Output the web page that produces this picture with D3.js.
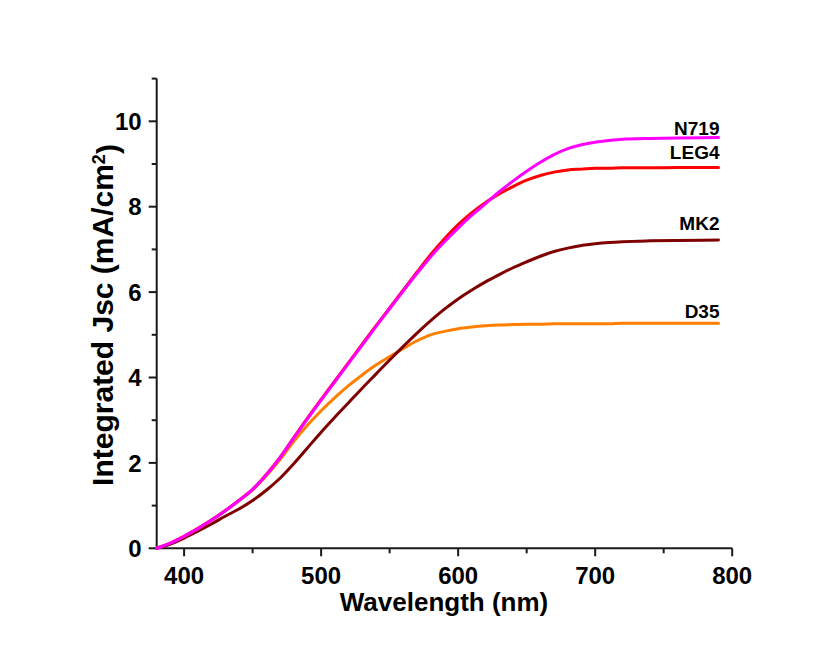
<!DOCTYPE html>
<html>
<head>
<meta charset="utf-8">
<script src="https://cdn.jsdelivr.net/npm/d3@7"></script>
<style>
  html, body { margin: 0; padding: 0; background: #ffffff; }
  svg { display: block; }
  text { font-family: "Liberation Sans", Arial, sans-serif; font-weight: bold; fill: #000; }
</style>
</head>
<body>
<svg id="chart" width="833" height="646"></svg>
<script>
// ---- data ----
const wavelengths = [380,390,400,410,420,430,440,450,460,470,480,490,500,510,520,530,540,550,560,570,580,590,600,610,620,630,640,650,660,670,680,690,700,710,720,740,760,790];
const seriesNames = ["N719", "LEG4", "MK2", "D35"];
const seriesColors = ["#ff00ff", "#ff0000", "#7f0000", "#ff8000"];
const n719 = [0,0.12,0.28,0.46,0.66,0.88,1.12,1.38,1.72,2.12,2.58,3.03,3.47,3.90,4.33,4.76,5.19,5.61,6.03,6.44,6.83,7.18,7.50,7.80,8.07,8.35,8.60,8.83,9.04,9.22,9.36,9.45,9.51,9.55,9.58,9.60,9.61,9.62];
const leg4 = [0,0.12,0.28,0.46,0.66,0.88,1.12,1.38,1.73,2.13,2.59,3.05,3.49,3.92,4.35,4.78,5.21,5.63,6.05,6.47,6.88,7.25,7.58,7.86,8.10,8.30,8.47,8.62,8.73,8.81,8.86,8.88,8.90,8.90,8.91,8.91,8.92,8.92];
const mk2  = [0,0.10,0.24,0.40,0.57,0.75,0.92,1.12,1.36,1.64,1.98,2.35,2.72,3.07,3.41,3.75,4.08,4.41,4.73,5.04,5.33,5.60,5.84,6.05,6.24,6.41,6.57,6.71,6.84,6.95,7.03,7.09,7.13,7.16,7.18,7.20,7.21,7.22];
const d35  = [0,0.12,0.28,0.46,0.66,0.88,1.12,1.37,1.70,2.08,2.50,2.88,3.22,3.53,3.81,4.06,4.29,4.49,4.68,4.86,5.00,5.08,5.14,5.18,5.21,5.23,5.24,5.25,5.25,5.26,5.26,5.26,5.26,5.26,5.27,5.27,5.27,5.27];
const seriesValues = [n719, leg4, mk2, d35];
const xTicks = [400, 500, 600, 700, 800];
const xMinorTicks = [450, 550, 650, 750];
const yTicks = [0, 2, 4, 6, 8, 10];
const yMinorTicks = [1, 3, 5, 7, 9, 11];

// ---- layout ----
const svg = d3.select("#chart");
const x = d3.scaleLinear().domain([380, 800]).range([156.7, 732.2]);
const y = d3.scaleLinear().domain([0, 11]).range([548.3, 78.6]);
const axisColor = "#1a1a1a";

// x axis
const gx = svg.append("g");
gx.selectAll("line.minor").data(xMinorTicks).enter().append("line")
  .attr("x1", d => x(d)).attr("x2", d => x(d))
  .attr("y1", y(0)).attr("y2", y(0) + 5)
  .attr("stroke", axisColor).attr("stroke-width", 2);
gx.selectAll("line.major").data(xTicks).enter().append("line")
  .attr("x1", d => x(d)).attr("x2", d => x(d))
  .attr("y1", y(0)).attr("y2", y(0) + 8)
  .attr("stroke", axisColor).attr("stroke-width", 2);
gx.selectAll("text").data(xTicks).enter().append("text")
  .attr("x", d => x(d)).attr("y", 583.5)
  .attr("text-anchor", "middle")
  .style("font-size", "24px")
  .text(d => d);
gx.append("line")
  .attr("x1", x(380)).attr("x2", x(800))
  .attr("y1", y(0)).attr("y2", y(0))
  .attr("stroke", axisColor).attr("stroke-width", 2);

// y axis
const gy = svg.append("g");
gy.selectAll("line.minor").data(yMinorTicks).enter().append("line")
  .attr("x1", x(380)).attr("x2", x(380) - 5)
  .attr("y1", d => y(d)).attr("y2", d => y(d))
  .attr("stroke", axisColor).attr("stroke-width", 2);
gy.selectAll("line.major").data(yTicks).enter().append("line")
  .attr("x1", x(380)).attr("x2", x(380) - 8)
  .attr("y1", d => y(d)).attr("y2", d => y(d))
  .attr("stroke", axisColor).attr("stroke-width", 2);
gy.selectAll("text").data(yTicks).enter().append("text")
  .attr("x", x(380) - 15).attr("y", d => y(d))
  .attr("dy", "0.36em")
  .attr("text-anchor", "end")
  .style("font-size", "24px")
  .text(d => d);
gy.append("line")
  .attr("x1", x(380)).attr("x2", x(380))
  .attr("y1", y(0)).attr("y2", y(11))
  .attr("stroke", axisColor).attr("stroke-width", 2);

// axis titles
svg.append("text")
  .attr("x", 444).attr("y", 611)
  .attr("text-anchor", "middle")
  .style("font-size", "26px")
  .text("Wavelength (nm)");

const yt = svg.append("text")
  .attr("transform", "translate(113,315) rotate(-90)")
  .attr("text-anchor", "middle")
  .style("font-size", "30px");
yt.append("tspan").text("Integrated Jsc (mA/cm");
yt.append("tspan").attr("dy", "-0.45em").style("font-size", "18px").text("2");
yt.append("tspan").attr("dy", "0.45em").text(")");

// lines
const line = d3.line()
  .x((d, i) => x(wavelengths[i]))
  .y(d => y(d))
  .curve(d3.curveMonotoneX);

// draw order: D35, MK2, LEG4, N719 (magenta on top)
const order = [3, 2, 1, 0];
order.forEach(k => {
  svg.append("path")
    .datum(seriesValues[k])
    .attr("d", line)
    .attr("fill", "none")
    .attr("stroke", seriesColors[k])
    .attr("stroke-width", 3)
    .attr("stroke-linejoin", "round")
    .attr("stroke-linecap", "round");
});

// labels at line ends
const labelOffsets = [-3, -8, -10, -5];
seriesNames.forEach((name, k) => {
  const vals = seriesValues[k];
  svg.append("text")
    .attr("x", x(wavelengths[wavelengths.length - 1]) + 1)
    .attr("y", y(vals[vals.length - 1]) + labelOffsets[k])
    .attr("text-anchor", "end")
    .style("font-size", "19px")
    .text(name);
});
</script>
</body>
</html>
